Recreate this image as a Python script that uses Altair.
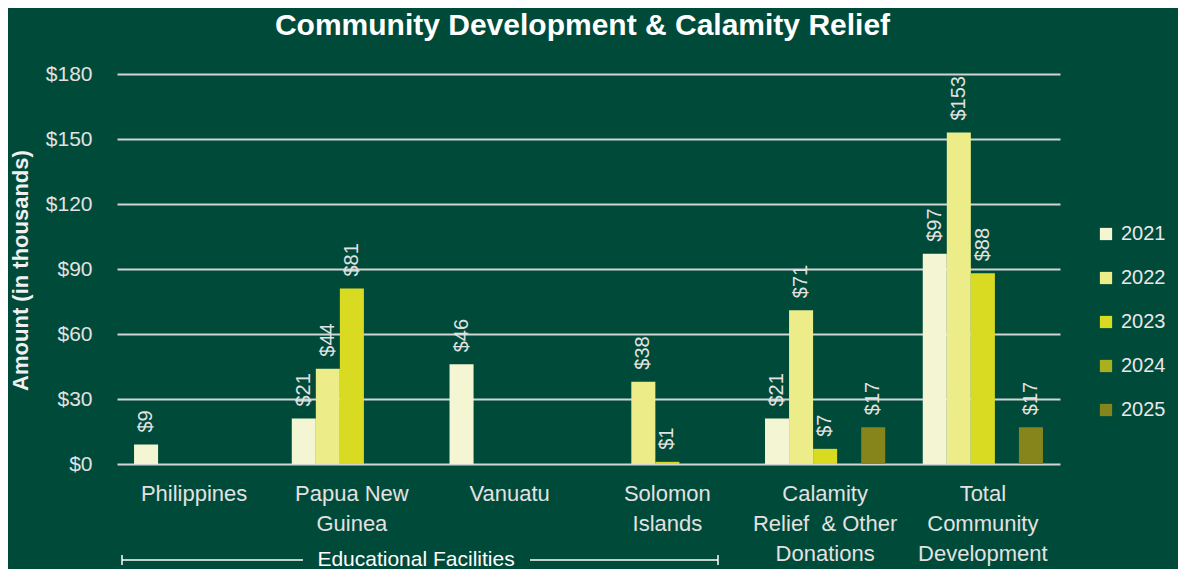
import altair as alt
import pandas as pd

categories = ["Philippines", "Papua New|Guinea", "Vanuatu", "Solomon|Islands",
              "Calamity|Relief\u00a0 & Other|Donations", "Total|Community|Development"]
years = ["2021", "2022", "2023", "2024", "2025"]
values = {
    "2021": [9, 21, 46, 0, 21, 97],
    "2022": [0, 44, 0, 38, 71, 153],
    "2023": [0, 81, 0, 1, 7, 88],
    "2024": [0, 0, 0, 0, 0, 0],
    "2025": [0, 0, 0, 0, 17, 17],
}
colors = ["#f4f5d2", "#ecec88", "#d9db22", "#a9b01e", "#85851c"]
y_ticks = [0, 30, 60, 90, 120, 150, 180]

rows = []
for yr in years:
    for cat, v in zip(categories, values[yr]):
        rows.append({"cat": cat, "year": yr, "value": v, "label": f"${v}"})
df = pd.DataFrame(rows)

FONT = "Liberation Sans"
BG = "#004a3a"

x_enc = alt.X("cat:N", sort=categories, title=None,
              scale=alt.Scale(paddingInner=0.238, paddingOuter=0.108),
              axis=alt.Axis(labelExpr="split(datum.label, '|')", labelAngle=0,
                            labelFontSize=22, labelColor="#e2e2e2", labelFont=FONT,
                            labelLineHeight=30, labelPadding=19, domain=False,
                            ticks=False, grid=False, labelBaseline="top"))
xoff = alt.XOffset("year:N", sort=years, scale=alt.Scale(paddingInner=0, paddingOuter=0))

bars = alt.Chart(df).mark_bar().encode(
    x=x_enc,
    xOffset=xoff,
    y=alt.Y("value:Q", scale=alt.Scale(domain=[0, 180], nice=False),
            axis=alt.Axis(values=y_ticks, labelExpr="'$' + datum.value",
                          title="Amount (in thousands)", titleFontSize=22,
                          titleFont=FONT, titleColor="#f0f0f0", titleFontWeight="bold",
                          titleX=-97, titleY=196, titleAngle=270, titleAlign="center",
                          titleBaseline="middle",
                          labelFontSize=21, labelColor="#e2e2e2", labelFont=FONT,
                          labelPadding=25, domain=False, ticks=False, grid=True,
                          gridColor="#d4d4d4", gridWidth=2)),
    color=alt.Color("year:N", sort=years, scale=alt.Scale(domain=years, range=colors),
                    legend=alt.Legend(title=None, orient="none", legendX=979, legendY=150,
                                      symbolType="square", symbolSize=150,
                                      symbolStrokeWidth=0, labelFontSize=20,
                                      labelFont=FONT, labelColor="#e8e8e8",
                                      rowPadding=24, labelOffset=5, padding=0)),
)

labels = alt.Chart(df).transform_filter("datum.value > 0").mark_text(
    angle=270, align="left", baseline="middle", fontSize=20, font=FONT,
    color="#e2e2e2", yOffset=-12,
).encode(
    x=alt.X("cat:N", sort=categories),
    xOffset=xoff,
    y="value:Q",
    text="label:N",
)

one = alt.Data(values=[{"a": 1}])
bracket_l = alt.Chart(one).mark_rule(color="white", strokeWidth=1.5).encode(
    x=alt.value(5), x2=alt.value(186), y=alt.value(486))
bracket_r = alt.Chart(one).mark_rule(color="white", strokeWidth=1.5).encode(
    x=alt.value(413), x2=alt.value(601), y=alt.value(486))
cap_l = alt.Chart(one).mark_rule(color="white", strokeWidth=1.5).encode(
    x=alt.value(5), y=alt.value(481), y2=alt.value(491))
cap_r = alt.Chart(one).mark_rule(color="white", strokeWidth=1.5).encode(
    x=alt.value(601), y=alt.value(481), y2=alt.value(491))
bracket_text = alt.Chart(one).mark_text(
    text="Educational Facilities", fontSize=21, font=FONT, color="#ffffff",
    align="center", baseline="middle").encode(x=alt.value(299), y=alt.value(486))

chart = alt.layer(bars, labels, bracket_l, bracket_r, cap_l, cap_r, bracket_text).properties(
    width=943, height=390,
    title=alt.TitleParams("Community Development & Calamity Relief", fontSize=30,
                          font=FONT, fontWeight="bold", color="#ffffff",
                          anchor="middle", dx=-6, offset=22),
    autosize=alt.AutoSizeParams(type="none"),
    padding={"left": 109, "top": 66, "right": 118, "bottom": 105},
    background=BG,
).configure_view(stroke=None)

chart.save("out.html", embed_options={"renderer": "svg", "actions": False})
